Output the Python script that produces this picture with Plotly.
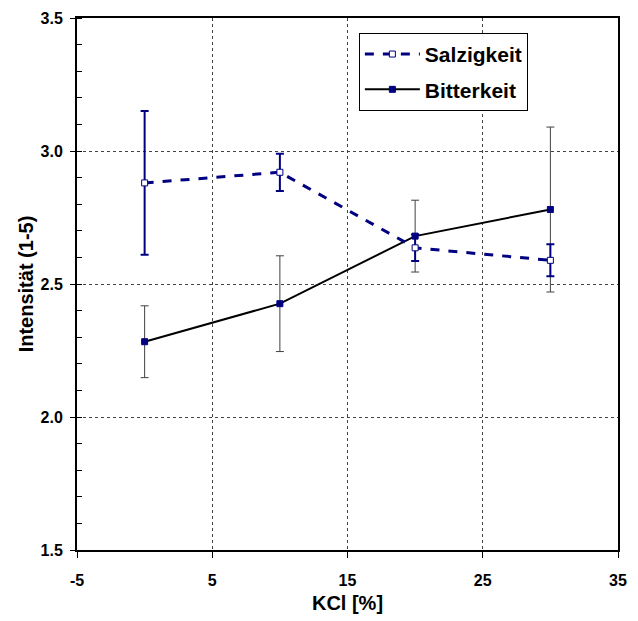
import plotly.graph_objects as go

kcl = [0, 10, 20, 30]
salz = [2.88, 2.92, 2.636, 2.589]
salz_err = [0.27, 0.07, 0.05, 0.06]
bitter = [2.283, 2.426, 2.68, 2.78]
bitter_err = [0.135, 0.18, 0.135, 0.31]
x_ticks = [-5, 5, 15, 25, 35]
x_ticklabels = ["-5", "5", "15", "25", "35"]
y_ticks = [1.5, 2.0, 2.5, 3.0, 3.5]

NAVY = "#000080"
FONT = "Liberation Sans, Arial, sans-serif"

fig = go.Figure()
fig.add_trace(go.Scatter(
    x=kcl, y=bitter, name="Bitterkeit", mode="lines+markers", legendgroup="b", legendrank=2,
    line=dict(color="black", width=2),
    marker=dict(symbol="square", size=6, color=NAVY, line=dict(color=NAVY, width=1)),
    error_y=dict(type="data", array=bitter_err, visible=True, color="#404040", thickness=1, width=4),
))
fig.add_trace(go.Scatter(
    x=kcl, y=salz, name="Salzigkeit", mode="lines+markers", legendgroup="s", legendrank=1,
    line=dict(color=NAVY, width=3, dash="dash"),
    marker=dict(symbol="square", size=6, color="white", line=dict(color=NAVY, width=1)),
    error_y=dict(type="data", array=salz_err, visible=True, color=NAVY, thickness=2, width=4),
))

fig.update_layout(
    width=630, height=613,
    margin=dict(l=69, r=20, t=10, b=71, autoexpand=False),
    paper_bgcolor="white", plot_bgcolor="white",
    font=dict(family=FONT, color="black"),
    legend=dict(
        x=0.521, y=0.972, xanchor="left", yanchor="top",
        bordercolor="black", borderwidth=1, bgcolor="white",
        font=dict(family=FONT, size=21, color="black", weight="bold"),
        traceorder="grouped", itemwidth=55, tracegroupgap=5,
        entrywidth=190,
    ),
    xaxis=dict(
        range=[-5, 35], tickmode="array", tickvals=x_ticks, ticktext=x_ticklabels,
        showgrid=True, gridcolor="#444", griddash="dot", gridwidth=1,
        showline=True, linecolor="black", linewidth=2, mirror=True,
        ticks="outside", ticklen=6, tickcolor="black", tickwidth=1,
        tickfont=dict(family=FONT, size=16, weight="bold"),
        ticklabelstandoff=9,
        title=dict(text="KCl [%]", font=dict(family=FONT, size=20, weight="bold"), standoff=8),
        zeroline=False, automargin=True,
    ),
    yaxis=dict(
        range=[1.5, 3.5], tickmode="array", tickvals=y_ticks, tickformat=".1f",
        showgrid=True, gridcolor="#444", griddash="dot", gridwidth=1,
        showline=True, linecolor="black", linewidth=2, mirror=True,
        ticks="outside", ticklen=5, tickcolor="black", tickwidth=1,
        minor=dict(ticks="inside", dtick=0.1, tick0=1.5, ticklen=5, tickcolor="black", showgrid=False),
        tickfont=dict(family=FONT, size=16, weight="bold"),
        ticklabelstandoff=4,
        title=dict(text="Intensität (1-5)", font=dict(family=FONT, size=20, weight="bold"), standoff=2),
        zeroline=False, automargin=True,
    ),
)

fig.write_html("out.html")
